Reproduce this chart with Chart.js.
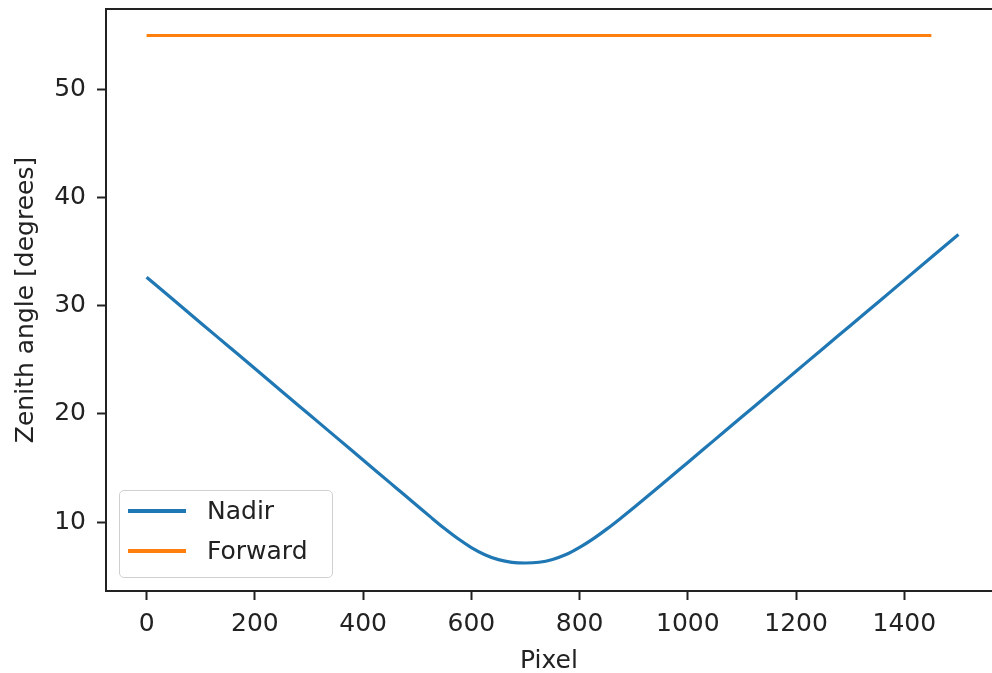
<!DOCTYPE html>
<html>
<head>
<meta charset="utf-8">
<script src="https://cdn.jsdelivr.net/npm/chart.js@4/dist/chart.umd.min.js"></script>
<style>
  html, body { margin: 0; padding: 0; background: #fff; overflow: hidden; }
  #wrap { position: relative; width: 992px; height: 673px; }
  #legend {
    position: absolute; left: 119px; top: 490px; width: 212px; height: 86px;
    border: 1px solid #d0d0d0; border-radius: 5px; background: rgba(255,255,255,0.8);
    font-family: "DejaVu Sans", sans-serif; font-size: 25px; color: #222;
  }
  #legend .item { position: absolute; left: 0; height: 30px; }
  #legend .swatch { position: absolute; left: 8px; width: 58px; height: 4px; top: 13px; }
  #legend .label { position: absolute; left: 87px; top: 0; line-height: 30px; white-space: nowrap; }
</style>
</head>
<body>
<div id="wrap">
  <canvas id="chart" width="992" height="673"></canvas>
  <div id="legend"></div>
</div>
<script>
// values
const nadirPixels = [0, 50, 100, 150, 200, 250, 300, 350, 400, 450, 475, 500, 525, 550, 575, 600, 625, 650, 675,
                     700, 725, 750, 775, 800, 825, 850, 875, 900, 925, 950, 1000, 1050, 1100, 1150, 1200,
                     1250, 1300, 1350, 1400, 1450, 1500];
const nadirAngles = [32.65, 30.54, 28.42, 26.31, 24.2, 22.08, 19.97, 17.86, 15.74, 13.63, 12.57, 11.52, 10.46, 9.43,
                     8.48, 7.65, 6.99, 6.53, 6.28, 6.22, 6.29, 6.55, 7.0, 7.66, 8.45, 9.35, 10.32, 11.33, 12.36,
                     13.41, 15.52, 17.63, 19.74, 21.84, 23.95, 26.06, 28.16, 30.27, 32.38, 34.49, 36.6];
const forwardPixels = [0, 1450];
const forwardAngles = [55, 55];
const xTicks = [0, 200, 400, 600, 800, 1000, 1200, 1400];
const yTicks = [10, 20, 30, 40, 50];

const BLUE = '#1f77b4', ORANGE = '#ff7f0e', INK = '#222';
const FONT = { family: "'DejaVu Sans', sans-serif", size: 25 };

const series = [
  { label: 'Nadir', color: BLUE, xs: nadirPixels, ys: nadirAngles },
  { label: 'Forward', color: ORANGE, xs: forwardPixels, ys: forwardAngles }
];

// top spine (matplotlib box), right spine falls outside the picture
const frame = {
  id: 'frame',
  afterDraw(chart) {
    const { ctx, chartArea: a } = chart;
    ctx.save();
    ctx.strokeStyle = INK; ctx.lineWidth = 2;
    ctx.beginPath(); ctx.moveTo(a.left - 1, a.top); ctx.lineTo(a.right + 2, a.top); ctx.stroke();
    ctx.restore();
  }
};

const axisCommon = (ticks, extra) => Object.assign({
  type: 'linear',
  grid: { display: true, drawOnChartArea: false, drawTicks: true, tickLength: 9, tickWidth: 2, tickColor: INK },
  border: { display: true, color: INK, width: 2 },
  afterBuildTicks: s => { s.ticks = ticks.map(v => ({ value: v })); }
}, extra);

new Chart(document.getElementById('chart'), {
  type: 'line',
  data: {
    datasets: series.map(s => ({
      label: s.label,
      data: s.xs.map((x, i) => ({ x: x, y: s.ys[i] })),
      borderColor: s.color, backgroundColor: s.color,
      borderWidth: 3.2, pointRadius: 0, fill: false,
      cubicInterpolationMode: 'monotone', borderCapStyle: 'butt'
    }))
  },
  plugins: [frame],
  options: {
    responsive: false, animation: false,
    layout: { padding: { top: 9, left: 0, right: 0, bottom: 0 } },
    plugins: { legend: { display: false }, tooltip: { enabled: false } },
    scales: {
      x: axisCommon(xTicks, {
        min: -75, max: 1562,
        ticks: { font: FONT, color: INK, padding: 9, maxRotation: 0, callback: v => String(v) },
        title: { display: true, text: 'Pixel', font: FONT, color: INK, padding: { top: 0, bottom: -3 } },
        afterFit: s => { s.height = 82; s.paddingLeft = 0; s.paddingRight = 0; }
      }),
      y: axisCommon(yTicks, {
        min: 3.63, max: 57.45,
        ticks: { font: FONT, color: INK, padding: 11, callback: v => String(v) },
        title: { display: true, text: 'Zenith angle [degrees]', font: FONT, color: INK, padding: { top: 11, bottom: 0 } },
        afterFit: s => { s.width = 106; s.paddingTop = 0; s.paddingBottom = 0; }
      })
    }
  }
});

// legend box drawn inside the axes, like matplotlib's lower-left legend
const legend = document.getElementById('legend');
series.forEach((s, i) => {
  const item = document.createElement('div');
  item.className = 'item';
  item.style.top = (5 + i * 40) + 'px';
  item.innerHTML = `<div class="swatch" style="background:${s.color}"></div><div class="label">${s.label}</div>`;
  legend.appendChild(item);
});
</script>
</body>
</html>
